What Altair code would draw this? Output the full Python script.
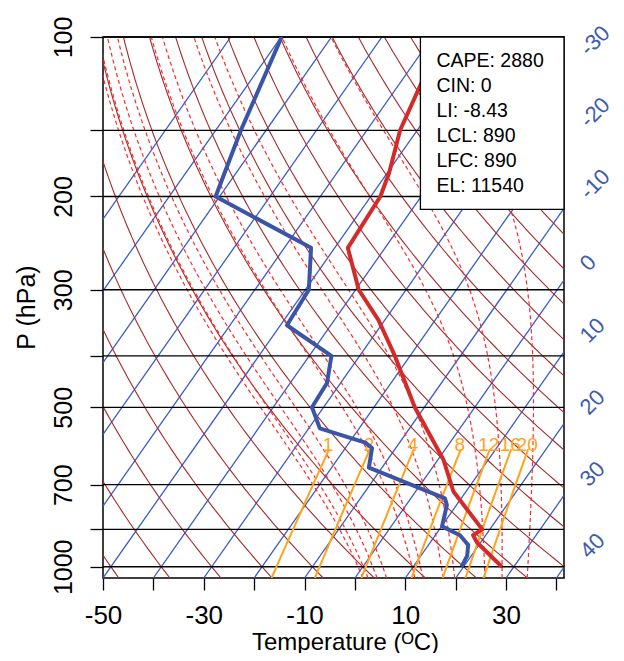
import numpy as np
import pandas as pd
import altair as alt

# ---------------- values ----------------
SKEW = 73.8                # skew of isotherms (deg C per decade of pressure)
P_BOT, P_TOP = 1050, 100
X_MIN, X_MAX = -50, 41.5

ISOBARS = [100, 150, 200, 300, 400, 500, 700, 850, 1000]
ISOBAR_LABELS = [100, 200, 300, 500, 700, 1000]
X_TICKS = list(range(-50, 50, 10))
ISOTHERMS = list(range(-100, 50, 10))
RIGHT_LABELS = list(range(-30, 50, 10))
THETA_C = list(range(-50, 210, 10))                       # dry adiabats (deg C)
MOIST_T1050 = [1.6, 2.6, 4.4, 6.3, 11.9, 13.5, 17.5, 19.8, 25.8, 29.2, 34.2]
MIXING = [1, 2, 4, 8, 12, 16, 20]                          # g/kg
MIX_TOP = 600

TEMP_P = [100, 125, 150, 180, 200, 250, 300, 342, 400, 500, 628, 721, 850, 872, 900, 1000]
TEMP_T = [-57.9, -55.5, -53.4, -49.7, -48.1, -47.4, -39.4, -31.3, -23.0, -11.9,
          1.1, 7.5, 18.5, 17.5, 19.3, 27.6]
DEW_P = [100, 150, 200, 250, 300, 350, 400, 450, 500, 548, 583, 597, 650, 743,
         765, 839, 872, 910, 954, 1000]
DEW_T = [-89.9, -85.0, -80.8, -54.7, -49.3, -48.7, -35.6, -32.7, -32.3, -27.8,
         -16.8, -14.7, -12.6, 6.8, 8.1, 10.1, 14.9, 17.9, 19.2, 19.6]

STATS = ["CAPE: 2880", "CIN: 0", "LI: -8.43", "LCL: 890", "LFC: 890", "EL: 11540"]
BOX_X, BOX_P = 13.0, 211.6

# ---------------- thermodynamic background curves ----------------
def dewpoint_from_mixing(w, p):
    e = w * p / (622.0 + w)
    a = np.log(e / 6.112)
    return 243.5 * a / (17.67 - a)


def moist_profile(t0c, pgrid):
    Rd, cp, Lv, eps = 287.04, 1005.7, 2.501e6, 0.622

    def f(T, p):
        tc = T - 273.15
        es = 6.112 * np.exp(17.67 * tc / (tc + 243.5))
        rs = eps * es / (p - es)
        return (Rd * T + Lv * rs) / (cp + Lv * Lv * rs * eps / (Rd * T * T)) / p

    T = t0c + 273.15
    out = [T]
    for i in range(1, len(pgrid)):
        p0, p1 = pgrid[i - 1], pgrid[i]
        h = p1 - p0
        k1 = f(T, p0)
        k2 = f(T + h * k1 / 2, p0 + h / 2)
        k3 = f(T + h * k2 / 2, p0 + h / 2)
        k4 = f(T + h * k3, p1)
        T = T + h * (k1 + 2 * k2 + 2 * k3 + k4) / 6
        out.append(T)
    return np.array(out) - 273.15


pgrid = np.geomspace(P_BOT, P_TOP, 90)
dry_rows = []
for th in THETA_C:
    for i, p in enumerate(pgrid):
        dry_rows.append({"g": th, "i": i, "p": p,
                         "T": (th + 273.15) * (p / 1000.0) ** 0.2857 - 273.15})
dry = pd.DataFrame(dry_rows)

moist_rows = []
for t0 in MOIST_T1050:
    ts = moist_profile(t0, pgrid)
    for i, (p, t) in enumerate(zip(pgrid, ts)):
        moist_rows.append({"g": t0, "i": i, "p": p, "T": t})
moist = pd.DataFrame(moist_rows)

mgrid = np.geomspace(P_BOT, MIX_TOP, 20)
mix_rows = []
for w in MIXING:
    for i, p in enumerate(mgrid):
        mix_rows.append({"g": w, "i": i, "p": p, "T": dewpoint_from_mixing(w, p)})
mix = pd.DataFrame(mix_rows)
mix_lab = pd.DataFrame({"w": MIXING, "p": MIX_TOP,
                        "T": [dewpoint_from_mixing(w, MIX_TOP) for w in MIXING]})

iso = pd.DataFrame([{"g": t, "i": i, "p": p, "T": t}
                    for t in ISOTHERMS for i, p in enumerate([P_BOT, P_TOP])])
temp = pd.DataFrame({"p": TEMP_P, "T": TEMP_T, "i": range(len(TEMP_P))})
dew = pd.DataFrame({"p": DEW_P, "T": DEW_T, "i": range(len(DEW_P))})
rlab = pd.DataFrame({"T": RIGHT_LABELS})
bars = pd.DataFrame({"p": ISOBARS})
box = pd.DataFrame({"X": [BOX_X], "x2": [X_MAX], "p": [P_TOP], "p2": [BOX_P]})
stats = pd.DataFrame({"X": [BOX_X], "p": [P_TOP], "txt": ["\n".join(STATS)]})

SKEW_EXPR = f"datum.T + {SKEW} * log({P_BOT} / datum.p) / LN10"

XS = alt.Scale(domain=[X_MIN, X_MAX], nice=False, zero=False)
YS = alt.Scale(type="log", domain=[P_TOP, P_BOT], reverse=True, nice=False)

FONT = "Liberation Sans"

x_axis = alt.Axis(values=X_TICKS, tickSize=12, tickWidth=1.3, tickColor="black",
                  labelExpr="abs(datum.value % 20) == 10 ? '' + datum.value : ''",
                  labelFontSize=26, labelColor="black", labelFlush=False,
                  labelOverlap=False, labelBaseline="alphabetic", labelPadding=33,
                  title="Temperature (ᴼC)", titleFontSize=24, titleFontWeight="normal",
                  titleColor="black", titleX=242, titleY=71, titleAlign="center",
                  titleBaseline="alphabetic", domain=False, grid=False)
y_axis = alt.Axis(values=ISOBARS, tickSize=13, tickWidth=1.3, tickColor="black",
                  labelExpr="indexof([100,200,300,500,700,1000], datum.value) >= 0 ? '' + datum.value : ''",
                  labelFontSize=25, labelColor="black", labelAngle=270,
                  labelAlign="center", labelBaseline="alphabetic", labelPadding=19,
                  labelFlush=False, labelOverlap=False,
                  title="P (hPa)", titleFontSize=25, titleFontWeight="normal",
                  titleColor="black", titleAngle=270, titleX=-69, titleY=270,
                  titleAlign="center", titleBaseline="alphabetic",
                  domain=False, grid=False)


def skewed(df):
    return alt.Chart(df).transform_calculate(X=SKEW_EXPR)


def xy():
    return dict(x=alt.X("X:Q", scale=XS, axis=x_axis),
                y=alt.Y("p:Q", scale=YS, axis=y_axis))


isotherms = skewed(iso).mark_line(color="#3a5cc8", strokeWidth=1.3, clip=True).encode(
    **xy(), detail="g:N", order="i:Q")

isobars = skewed(bars.assign(T=X_MIN, p=bars["p"])).mark_rule(
    color="black", strokeWidth=1.3).encode(y=alt.Y("p:Q", scale=YS, axis=y_axis))

dry_l = skewed(dry).mark_line(color="#a52a2a", strokeWidth=1.1, clip=True).encode(
    **xy(), detail="g:N", order="i:Q")

moist_l = skewed(moist).mark_line(color="#ff2a2a", strokeWidth=1.2, strokeDash=[4, 3],
                                  clip=True).encode(**xy(), detail="g:N", order="i:Q")

mix_l = skewed(mix).mark_line(color="#ffa31a", strokeWidth=2, clip=True).encode(
    **xy(), detail="g:N", order="i:Q")

mix_t = skewed(mix_lab).transform_calculate(lab="'' + datum.w").mark_text(
    color="#ffa31a", fontSize=19, font=FONT, align="center", baseline="alphabetic",
    dy=2, dx=-1).encode(**xy(), text="lab:N")

temp_l = skewed(temp).mark_line(color="#d42a2a", strokeWidth=4, clip=True,
                                strokeJoin="round").encode(**xy(), order="i:Q")
dew_l = skewed(dew).mark_line(color="#3a55a8", strokeWidth=4, clip=True,
                              strokeJoin="round").encode(**xy(), order="i:Q")

box_r = alt.Chart(box).mark_rect(fill="white", stroke="black", strokeWidth=1.3).encode(
    x=alt.X("X:Q", scale=XS, axis=x_axis), x2="x2:Q",
    y=alt.Y("p:Q", scale=YS, axis=y_axis), y2="p2:Q")

box_t = alt.Chart(stats).mark_text(
    align="left", baseline="alphabetic", dx=16, dy=30, fontSize=19.5, font=FONT,
    lineBreak="\n", lineHeight=25, color="black").encode(
    x=alt.X("X:Q", scale=XS, axis=x_axis), y=alt.Y("p:Q", scale=YS, axis=y_axis),
    text="txt:N")

right_t = alt.Chart(rlab).transform_calculate(
    X=f"{X_MAX}", p=f"{P_BOT} / pow(10, ({X_MAX} - datum.T) / {SKEW})",
    lab="'' + datum.T").mark_text(
    color="#3f5cae", fontSize=22, font=FONT, angle=315, align="left",
    baseline="middle", dx=23, dy=5).encode(**xy(), text="lab:N")

chart = alt.layer(
    isotherms, dry_l, moist_l, isobars, mix_l, mix_t, dew_l, temp_l, box_r, box_t, right_t
).properties(
    width=461, height=541,
    padding={"left": 95, "top": 29, "right": 52, "bottom": 75},
    autosize=alt.AutoSizeParams(type="none"),
).configure(font=FONT).configure_view(stroke="black", strokeWidth=1.5)

chart.save("out.html", embed_options={"renderer": "svg", "actions": False})
